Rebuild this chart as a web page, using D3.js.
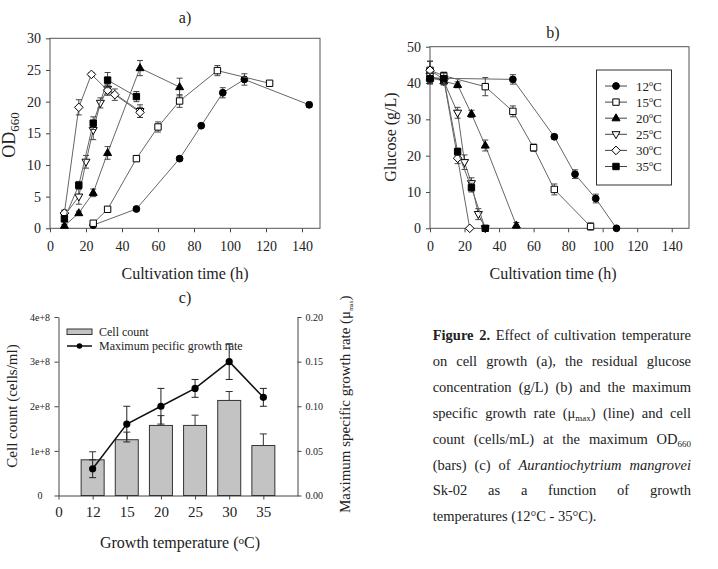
<!DOCTYPE html>
<html>
<head>
<meta charset="utf-8">
<script src="https://d3js.org/d3.v7.min.js"></script>
<style>
  body { margin: 0; background: #fff; }
  svg text { font-family: "Liberation Serif", "Times New Roman", serif; fill: #222; }
</style>
</head>
<body>
<svg id="fig"></svg>
<script>
var width = 718, height = 569;

// series = growth temperatures
var temps = ["12", "15", "20", "25", "30", "35"];

// panel a: OD660 vs cultivation time
var odHours = [
  [24, 48, 72, 84, 96, 108, 144],
  [24, 32, 48, 60, 72, 93, 122],
  [8, 16, 24, 32, 50, 72],
  [8, 16, 20, 24, 28, 32, 50],
  [8, 16, 23, 32, 36, 50],
  [8, 16, 24, 32, 48]
];
var odValues = [
  [0.5, 3.05, 11, 16.2, 21.4, 23.5, 19.5],
  [0.8, 3, 11, 16, 20.1, 24.9, 22.9],
  [0.4, 2.4, 5.6, 11.9, 25.3, 22.3],
  [2.0, 5, 10.5, 15.5, 19.8, 22, 18.5],
  [2.4, 19.1, 24.3, 21.8, 21.1, 18.3],
  [1.5, 6.8, 16.6, 23.4, 20.8]
];
var odErrors = [
  [0.2, 0.3, 0.3, 0.3, 0.8, 0.9, 0.4],
  [0.3, 0.3, 0.4, 0.8, 1.0, 0.8, 0.3],
  [0.2, 0.3, 0.6, 1.0, 1.2, 1.4],
  [0.8, 1.2, 1.0, 1.5, 0.8, 0.8, 1.0],
  [0.5, 1.2, 0.3, 0.8, 0.9, 0.8],
  [0.5, 0.6, 1.0, 1.2, 0.8]
];

// panel b: residual glucose vs cultivation time
var glcHours = [
  [0, 8, 48, 72, 84, 96, 108],
  [0, 8, 32, 48, 60, 72, 93],
  [0, 8, 16, 24, 32, 50],
  [0, 8, 16, 20, 24, 28, 32],
  [0, 8, 16, 23],
  [0, 8, 16, 24, 32]
];
var glcValues = [
  [41.5, 41.3, 41, 25.2, 14.9, 8.2, 0],
  [43.5, 42, 39, 32.2, 22.2, 10.7, 0.5],
  [41.5, 40.5, 39.5, 31.5, 22.8, 0.8],
  [42, 40.5, 31.8, 18.2, 12.4, 3.9, 0],
  [43.5, 41, 19.3, 0],
  [41.2, 41.2, 21.1, 11.2, 0]
];
var glcErrors = [
  [1.5, 1, 1.3, 0.6, 1.2, 1.2, 0],
  [2.5, 1, 2.5, 1.5, 1, 1.5, 1],
  [1.5, 1, 0.8, 1, 1.5, 0.8],
  [2, 1, 1.5, 2, 1.5, 1.5, 0],
  [2.5, 1, 1.5, 0],
  [1.5, 1.5, 1, 1.2, 0]
];

// panel c: cell count (bars) and maximum specific growth rate (line)
var cellCount = [0.80e8, 1.25e8, 1.57e8, 1.57e8, 2.13e8, 1.12e8];
var cellCountErr = [0.18e8, 0.17e8, 0.22e8, 0.23e8, 0.2e8, 0.26e8];
var muMax = [0.03, 0.08, 0.10, 0.12, 0.15, 0.11];
var muMaxErr = [0.01, 0.02, 0.02, 0.01, 0.02, 0.01];

// ticks
var timeTicks = [0, 20, 40, 60, 80, 100, 120, 140];
var odTicks = [0, 5, 10, 15, 20, 25, 30];
var glcTicks = [0, 10, 20, 30, 40, 50];
var cellTicks = [0, 1e8, 2e8, 3e8, 4e8];
var cellTickLabels = ["0", "1e+8", "2e+8", "3e+8", "4e+8"];
var muTicks = [0, 0.05, 0.10, 0.15, 0.20];
var tempTickLabels = ["0", "12", "15", "20", "25", "30", "35"];

// caption text: "*" starts bold, "/" starts italic, _x_ is a subscript
var captionLines = [
  "*Figure 2. Effect of cultivation temperature",
  "on cell growth (a), the residual glucose",
  "concentration (g/L) (b) and the maximum",
  "specific growth rate (μ_max_) (line) and cell",
  "count (cells/mL) at the maximum OD_660_",
  "(bars) (c) of /Aurantiochytrium /mangrovei",
  "Sk-02 as a function of growth",
  "temperatures (12°C - 35°C)."
];

// marker styles for the six temperatures
var markerKind = ["circle", "square", "triUp", "triDown", "diamond", "square"];
var markerFill = ["#000", "#fff", "#000", "#fff", "#fff", "#000"];

function markerPath(kind) {
  if (kind == "circle") return "M3.4,0A3.4,3.4 0 1 1 -3.4,0A3.4,3.4 0 1 1 3.4,0Z";
  if (kind == "square") return "M-3.2,-3.2H3.2V3.2H-3.2Z";
  if (kind == "triUp") return "M0,-4.4L4,2.6L-4,2.6Z";
  if (kind == "triDown") return "M0,4.4L4,-2.6L-4,-2.6Z";
  return "M0,-4.3L4.3,0L0,4.3L-4.3,0Z";
}

var svg = d3.select("#fig").attr("width", width).attr("height", height);
svg.append("rect").attr("width", width).attr("height", height).attr("fill", "#fff");

function styleAxis(g, size) {
  g.attr("font-size", size).attr("font-family", null);
  g.selectAll(".tick line").attr("stroke", "#444");
  g.selectAll(".domain").attr("stroke", "#444");
}

function timePanel(x, y, yTicks, hours, values, errors) {
  var g = svg.append("g");
  var x0 = x.range()[0], x1 = x.range()[1], y0 = y.range()[0], y1 = y.range()[1];

  g.append("g").attr("transform", "translate(0," + y0 + ")")
    .call(d3.axisBottom(x).tickValues(timeTicks).tickSize(4).tickPadding(9).tickSizeOuter(0))
    .call(function(a) { a.select(".domain").remove(); styleAxis(a, 14); });
  g.append("g").attr("transform", "translate(" + x0 + ",0)")
    .call(d3.axisLeft(y).tickValues(yTicks).tickSize(4).tickPadding(5).tickSizeOuter(0))
    .call(function(a) { a.select(".domain").remove(); styleAxis(a, 14); });

  g.append("rect").attr("x", x0).attr("y", y1).attr("width", x1 - x0).attr("height", y0 - y1)
    .attr("fill", "none").attr("stroke", "#555").attr("stroke-width", 1);

  var line = d3.line().x(function(d) { return x(d.h); }).y(function(d) { return y(d.v); });

  temps.forEach(function(t, i) {
    var pts = hours[i].map(function(h, j) { return { h: h, v: values[i][j], e: errors[i][j] }; });
    var s = g.append("g");
    s.append("path").datum(pts).attr("d", line)
      .attr("fill", "none").attr("stroke", "#666").attr("stroke-width", 1);
    var eb = s.selectAll(".err").data(pts.filter(function(d) { return d.e > 0; }))
      .enter().append("g").attr("stroke", "#333").attr("stroke-width", 0.9);
    eb.append("line").attr("x1", function(d) { return x(d.h); }).attr("x2", function(d) { return x(d.h); })
      .attr("y1", function(d) { return y(d.v - d.e); }).attr("y2", function(d) { return y(d.v + d.e); });
    [-1, 1].forEach(function(k) {
      eb.append("line").attr("x1", function(d) { return x(d.h) - 3; }).attr("x2", function(d) { return x(d.h) + 3; })
        .attr("y1", function(d) { return y(d.v + k * d.e); }).attr("y2", function(d) { return y(d.v + k * d.e); });
    });
    s.selectAll(".mk").data(pts).enter().append("path")
      .attr("transform", function(d) { return "translate(" + x(d.h) + "," + y(d.v) + ")"; })
      .attr("d", markerPath(markerKind[i]))
      .attr("fill", markerFill[i]).attr("stroke", "#000").attr("stroke-width", 1);
  });
  return g;
}

// ---- panel a ----
var xA = d3.scaleLinear().domain([0, 150]).range([50, 320]);
var yA = d3.scaleLinear().domain([0, 30]).range([228.3, 38.3]);
timePanel(xA, yA, odTicks, odHours, odValues, odErrors);
svg.append("text").attr("x", 185).attr("y", 23).attr("text-anchor", "middle").attr("font-size", 16).text("a)");
svg.append("text").attr("x", 185).attr("y", 279).attr("text-anchor", "middle").attr("font-size", 16).text("Cultivation time (h)");
var odLab = svg.append("text").attr("transform", "translate(15,135) rotate(-90)")
  .attr("text-anchor", "middle").attr("font-size", 18);
odLab.append("tspan").text("OD");
odLab.append("tspan").attr("font-size", 13).attr("dy", 4).text("660");

// ---- panel b ----
var xB = d3.scaleLinear().domain([0, 150]).range([430, 689]);
var yB = d3.scaleLinear().domain([0, 50]).range([228.3, 46.7]);
timePanel(xB, yB, glcTicks, glcHours, glcValues, glcErrors);
svg.append("text").attr("x", 553).attr("y", 38).attr("text-anchor", "middle").attr("font-size", 16).text("b)");
svg.append("text").attr("x", 553).attr("y", 279).attr("text-anchor", "middle").attr("font-size", 16).text("Cultivation time (h)");
svg.append("text").attr("transform", "translate(396,137) rotate(-90)")
  .attr("text-anchor", "middle").attr("font-size", 16).text("Glucose (g/L)");

// legend b
var lg = svg.append("g");
lg.append("rect").attr("x", 596.5).attr("y", 70).attr("width", 75).attr("height", 115)
  .attr("fill", "#fff").attr("stroke", "#333").attr("stroke-width", 1);
temps.forEach(function(t, i) {
  var ly = 86 + i * 16.1;
  lg.append("line").attr("x1", 605).attr("x2", 627).attr("y1", ly).attr("y2", ly)
    .attr("stroke", "#444").attr("stroke-width", 1);
  lg.append("path").attr("transform", "translate(616," + ly + ")").attr("d", markerPath(markerKind[i]))
    .attr("fill", markerFill[i]).attr("stroke", "#000");
  var tx = lg.append("text").attr("x", 636).attr("y", ly + 4.5).attr("font-size", 13);
  tx.append("tspan").text(t);
  tx.append("tspan").attr("font-size", 8).attr("dy", -5).text("o");
  tx.append("tspan").attr("dy", 5).text("C");
});

// ---- panel c ----
var xC = d3.scaleLinear().domain([0, 7]).range([58.5, 297.5]);
var yC = d3.scaleLinear().domain([0, 4e8]).range([495.5, 317]);
var yMu = d3.scaleLinear().domain([0, 0.2]).range([495.5, 317]);
var gc = svg.append("g");

gc.append("g").attr("transform", "translate(0,495.5)")
  .call(d3.axisBottom(xC).tickValues([0, 1, 2, 3, 4, 5, 6])
    .tickFormat(function(d, i) { return tempTickLabels[i]; })
    .tickSize(4).tickPadding(7).tickSizeOuter(0))
  .call(function(a) { styleAxis(a, 15); });
gc.append("g").attr("transform", "translate(58.5,0)")
  .call(d3.axisLeft(yC).tickValues(cellTicks)
    .tickFormat(function(d, i) { return cellTickLabels[i]; })
    .tickSize(4).tickSizeOuter(0))
  .call(function(a) {
    styleAxis(a, 10);
    a.selectAll("text").attr("text-anchor", "middle").attr("x", -18.5);
  });
gc.append("g").attr("transform", "translate(297.5,0)")
  .call(d3.axisRight(yMu).tickValues(muTicks).tickFormat(d3.format(".2f"))
    .tickSize(4).tickPadding(4).tickSizeOuter(0))
  .call(function(a) { styleAxis(a, 10); });

// bars with upward error whiskers
var barW = 23;
var bars = gc.selectAll(".bar").data(cellCount).enter().append("g");
bars.append("line")
  .attr("x1", function(d, i) { return xC(i + 1); }).attr("x2", function(d, i) { return xC(i + 1); })
  .attr("y1", function(d) { return yC(d); }).attr("y2", function(d, i) { return yC(d + cellCountErr[i]); })
  .attr("stroke", "#333");
bars.append("line")
  .attr("x1", function(d, i) { return xC(i + 1) - 3.5; }).attr("x2", function(d, i) { return xC(i + 1) + 3.5; })
  .attr("y1", function(d, i) { return yC(d + cellCountErr[i]); }).attr("y2", function(d, i) { return yC(d + cellCountErr[i]); })
  .attr("stroke", "#333");
bars.append("rect")
  .attr("x", function(d, i) { return xC(i + 1) - barW / 2; }).attr("width", barW)
  .attr("y", function(d) { return yC(d); }).attr("height", function(d) { return yC(0) - yC(d); })
  .attr("fill", "#c3c3c3").attr("stroke", "#333").attr("stroke-width", 1);

// growth rate line on the right axis
var muPts = muMax.map(function(v, i) { return { i: i + 1, v: v, e: muMaxErr[i] }; });
var muErr = gc.selectAll(".muerr").data(muPts).enter().append("g").attr("stroke", "#222");
muErr.append("line").attr("x1", function(d) { return xC(d.i); }).attr("x2", function(d) { return xC(d.i); })
  .attr("y1", function(d) { return yMu(d.v - d.e); }).attr("y2", function(d) { return yMu(d.v + d.e); });
[-1, 1].forEach(function(k) {
  muErr.append("line").attr("x1", function(d) { return xC(d.i) - 3.5; }).attr("x2", function(d) { return xC(d.i) + 3.5; })
    .attr("y1", function(d) { return yMu(d.v + k * d.e); }).attr("y2", function(d) { return yMu(d.v + k * d.e); });
});
gc.append("path").datum(muPts)
  .attr("d", d3.line().x(function(d) { return xC(d.i); }).y(function(d) { return yMu(d.v); }))
  .attr("fill", "none").attr("stroke", "#111").attr("stroke-width", 1.5);
gc.selectAll(".mu").data(muPts).enter().append("circle")
  .attr("cx", function(d) { return xC(d.i); }).attr("cy", function(d) { return yMu(d.v); })
  .attr("r", 3.6).attr("fill", "#000");

// legend c
gc.append("rect").attr("x", 67).attr("y", 329).attr("width", 25).attr("height", 5.5)
  .attr("fill", "#c3c3c3").attr("stroke", "#333");
gc.append("text").attr("x", 99).attr("y", 336).attr("font-size", 12).text("Cell count");
gc.append("line").attr("x1", 67).attr("x2", 92).attr("y1", 346).attr("y2", 346)
  .attr("stroke", "#111").attr("stroke-width", 1.5);
gc.append("circle").attr("cx", 79.5).attr("cy", 346).attr("r", 2.8).attr("fill", "#000");
gc.append("text").attr("x", 99).attr("y", 350).attr("font-size", 12).text("Maximum pecific growth rate");

svg.append("text").attr("x", 185).attr("y", 303).attr("text-anchor", "middle").attr("font-size", 16).text("c)");
var ctl = svg.append("text").attr("x", 180).attr("y", 548).attr("text-anchor", "middle").attr("font-size", 16);
ctl.append("tspan").text("Growth temperature (");
ctl.append("tspan").attr("font-size", 11).attr("dy", -4).text("o");
ctl.append("tspan").attr("dy", 4).text("C)");
svg.append("text").attr("transform", "translate(17,406) rotate(-90)")
  .attr("text-anchor", "middle").attr("font-size", 15).text("Cell count (cells/ml)");
var rl = svg.append("text").attr("transform", "translate(350,513) rotate(-90)").attr("font-size", 15);
rl.append("tspan").text("Maximum specific growth rate (μ");
rl.append("tspan").attr("font-size", 6).attr("dy", 3).text("max");
rl.append("tspan").attr("dy", -3).text(")");

// ---- caption, justified word by word ----
var capLeft = 432.7, capRight = 691, capTop = 340, capStep = 25.9;
captionLines.forEach(function(ln, li) {
  var nodes = [];
  var bold = false, ital = false;
  ln.split(" ").forEach(function(w) {
    if (w[0] == "*") { bold = true; w = w.slice(1); }
    if (w[0] == "/") { ital = true; w = w.slice(1); }
    var t = svg.append("text").attr("y", capTop + li * capStep).attr("font-size", 14.5)
      .attr("font-weight", bold ? "bold" : null).attr("font-style", ital ? "italic" : null);
    w.split("_").forEach(function(seg, k) {
      if (!seg.length) return;
      if (k % 2 == 1) t.append("tspan").attr("font-size", 9).attr("dy", 3).text(seg);
      else t.append("tspan").attr("dy", k > 0 ? -3 : 0).text(seg);
    });
    if (w == "2.") bold = false;
    nodes.push(t);
  });
  var widths = nodes.map(function(n) { return n.node().getComputedTextLength(); });
  var last = li == captionLines.length - 1;
  var gap = last ? 3.6 : (capRight - capLeft - d3.sum(widths)) / (nodes.length - 1);
  var cx = capLeft;
  nodes.forEach(function(n, k) { n.attr("x", cx); cx += widths[k] + gap; });
});
</script>
</body>
</html>
